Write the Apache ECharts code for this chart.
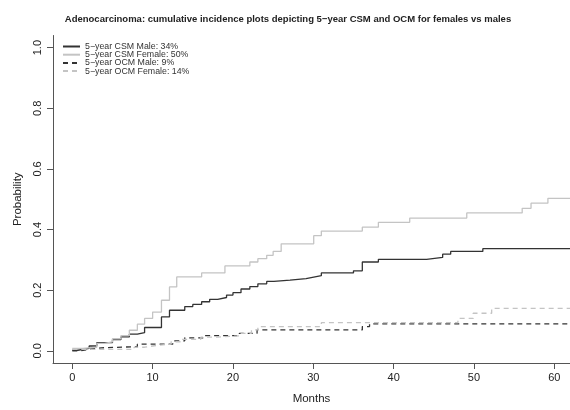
<!DOCTYPE html>
<html>
<head>
<meta charset="utf-8">
<script src="https://cdn.jsdelivr.net/npm/echarts@6/dist/echarts.min.js"></script>
<style>
html,body{margin:0;padding:0;background:#fff;}
#chart{width:570px;height:410px;}
</style>
</head>
<body>
<div id="chart"></div>
<script>
// ---- data ----
const titleText = "Adenocarcinoma: cumulative incidence plots depicting 5\u2212year CSM and OCM for females vs males";
const seriesNames = ["5\u2212year CSM Male: 34%", "5\u2212year CSM Female: 50%", "5\u2212year OCM Male: 9%", "5\u2212year OCM Female: 14%"];
const xTicks = [0, 10, 20, 30, 40, 50, 60];
const yTicks = [0, 0.2, 0.4, 0.6, 0.8, 1.0];

const csmMaleT = [0, 0.7, 2.1, 3.05, 5.0, 6.05, 7.1, 8.1, 9.0, 11.1, 12.1, 14.0, 15.0, 16.1, 17.1, 18.1, 19.2, 20.0, 21.0, 22.1, 23.1, 24.2, 25.1, 27.1, 29.1, 30.05, 31.0, 35.0, 36.1, 38.1, 44.1, 46.1, 47.1, 51.1, 62];
const csmMaleV = [0.002, 0.008, 0.016, 0.027, 0.037, 0.046, 0.055, 0.06, 0.077, 0.112, 0.134, 0.146, 0.153, 0.162, 0.17, 0.176, 0.184, 0.192, 0.204, 0.212, 0.221, 0.229, 0.233, 0.238, 0.243, 0.248, 0.257, 0.264, 0.293, 0.302, 0.308, 0.319, 0.328, 0.337, 0.337];

const csmFemaleT = [0, 1.3, 3.05, 4.0, 5.0, 6.05, 7.1, 8.1, 9.0, 10.0, 11.1, 12.1, 13.0, 16.1, 19.0, 22.1, 23.1, 24.2, 25.0, 26.0, 30.05, 31.0, 36.1, 38.1, 42.0, 49.1, 56.0, 57.1, 59.2, 62];
const csmFemaleV = [0.008, 0.012, 0.025, 0.03, 0.04, 0.05, 0.068, 0.088, 0.107, 0.128, 0.167, 0.211, 0.244, 0.257, 0.28, 0.293, 0.304, 0.315, 0.328, 0.353, 0.38, 0.395, 0.408, 0.424, 0.438, 0.455, 0.47, 0.487, 0.503, 0.503];

const ocmMaleT = [0, 1.0, 2.0, 3.6, 8.1, 12.5, 14.0, 16.3, 20.8, 23.0, 36.1, 37.0, 62];
const ocmMaleV = [0, 0.005, 0.01, 0.014, 0.022, 0.033, 0.043, 0.05, 0.058, 0.069, 0.08, 0.089, 0.089];

const ocmFemaleT = [0, 7.7, 9.0, 10.5, 12.3, 13.5, 16.0, 18.0, 21.0, 22.3, 23.1, 31.0, 48.0, 49.9, 52.2, 62];
const ocmFemaleV = [0.005, 0.012, 0.018, 0.022, 0.03, 0.038, 0.045, 0.05, 0.058, 0.069, 0.08, 0.093, 0.107, 0.124, 0.14, 0.14];

function pairs(t, v) { return t.map((x, i) => [x, v[i]]); }

const FONT = '"Liberation Sans", Arial, Helvetica, sans-serif';
const chart = echarts.init(document.getElementById('chart'), null, {renderer: 'canvas'});

const seriesDefs = [
  {name: seriesNames[0], data: pairs(csmMaleT, csmMaleV), color: '#333333', type: 'solid'},
  {name: seriesNames[1], data: pairs(csmFemaleT, csmFemaleV), color: '#c4c4c4', type: 'solid'},
  {name: seriesNames[2], data: pairs(ocmMaleT, ocmMaleV), color: '#333333', type: [5, 4]},
  {name: seriesNames[3], data: pairs(ocmFemaleT, ocmFemaleV), color: '#c4c4c4', type: [5, 4]}
];

chart.setOption({
  animation: false,
  backgroundColor: '#ffffff',
  title: {
    text: titleText,
    left: 283,
    top: 9,
    textAlign: 'center',
    textStyle: {fontFamily: FONT, fontSize: 9.5, fontWeight: 'bold', color: '#222'}
  },
  legend: {
    orient: 'vertical',
    left: 62,
    top: 42,
    padding: 0,
    itemWidth: 17,
    itemHeight: 8,
    itemGap: -0.8,
    data: seriesNames,
    itemStyle: {opacity: 0, borderWidth: 0},
    textStyle: {fontFamily: FONT, fontSize: 8.8, color: '#333', lineHeight: 8.5}
  },
  grid: {left: 53, right: 0, top: 35.5, bottom: 45.5, containLabel: false},
  xAxis: {
    type: 'value',
    min: -2.4,
    max: 61.95,
    name: 'Months',
    nameLocation: 'middle',
    nameGap: 30,
    nameTextStyle: {fontFamily: FONT, fontSize: 11.5, color: '#222'},
    axisLine: {show: true, onZero: false, lineStyle: {color: '#555', width: 1}},
    axisTick: {show: true, length: 6, customValues: xTicks, lineStyle: {color: '#555'}},
    axisLabel: {customValues: xTicks, margin: 9, fontFamily: FONT, fontSize: 11, color: '#222'},
    splitLine: {show: false}
  },
  yAxis: {
    type: 'value',
    min: -0.04,
    max: 1.04,
    name: 'Probability',
    nameLocation: 'middle',
    nameRotate: 90,
    nameGap: 29,
    nameTextStyle: {fontFamily: FONT, fontSize: 11.5, color: '#222'},
    axisLine: {show: true, onZero: false, lineStyle: {color: '#555', width: 1}},
    axisTick: {show: true, length: 6, customValues: yTicks, lineStyle: {color: '#555'}},
    axisLabel: {customValues: yTicks, rotate: 90, margin: 10, fontFamily: FONT, fontSize: 11, color: '#222',
      formatter: v => v.toFixed(1)},
    splitLine: {show: false}
  },
  series: seriesDefs.map(s => ({
    name: s.name,
    type: 'line',
    step: 'end',
    symbol: 'none',
    data: s.data,
    color: s.color,
    lineStyle: {color: s.color, width: 1.3, type: s.type},
    itemStyle: {color: s.color}
  }))
});
</script>
</body>
</html>
